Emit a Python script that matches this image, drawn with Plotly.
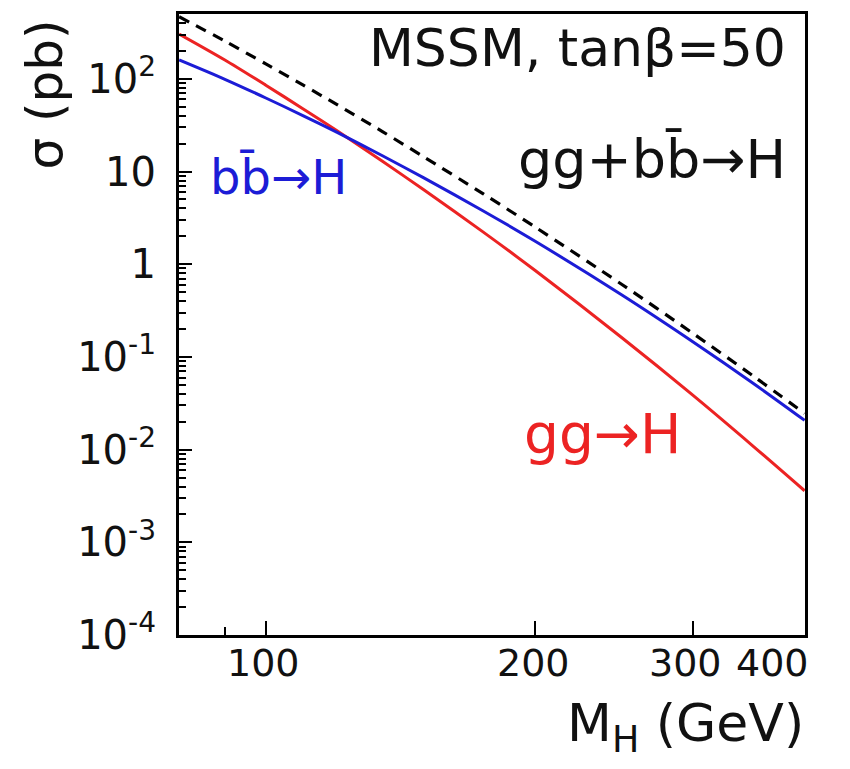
import math
import plotly.graph_objects as go

# Higgs mass (GeV)
mass = [80, 90, 100, 110, 120, 135, 150, 175, 200, 250, 300, 350, 400]
# cross sections (pb)
sigma_bbH = [160, 99, 62.2, 40.2, 26.6, 14.8, 8.6, 3.76, 1.77, 0.466, 0.146, 0.0524, 0.0207]
sigma_ggH = [305, 160, 85.5, 47.7, 27.7, 12.9, 6.4, 2.22, 0.855, 0.161, 0.0387, 0.0110, 0.0036]
sigma_tot = [468, 256, 145, 86, 53, 27, 14.5, 5.75, 2.52, 0.605, 0.180, 0.0628, 0.0246]

y_tickvals = [1e-4, 1e-3, 1e-2, 1e-1, 1, 10, 100]
y_ticktext = ["10<sup>-4</sup>", "10<sup>-3</sup>", "10<sup>-2</sup>", "10<sup>-1</sup>",
              "1", "10", "10<sup>2</sup>"]
x_tickvals = [100, 200, 300, 400]
x_ticktext = ["100", "200", "300", "400"]
x_label_shift = [-2, -2, -7, 6]   # small label nudges as drawn in the original

BLUE = "#1c1cd6"
RED = "#ec2323"
FONT = "DejaVu Sans"

fig = go.Figure()
fig.add_trace(go.Scatter(x=mass, y=sigma_ggH, mode="lines",
                         line=dict(color=RED, width=3, shape="spline", smoothing=0.8)))
fig.add_trace(go.Scatter(x=mass, y=sigma_bbH, mode="lines",
                         line=dict(color=BLUE, width=3, shape="spline", smoothing=0.8)))
fig.add_trace(go.Scatter(x=mass, y=sigma_tot, mode="lines",
                         line=dict(color="black", width=3.2, dash="11px,8px",
                                   shape="spline", smoothing=0.8)))

L, R, T, B = 179, 805, 11, 635
W, H = 850, 769


def px(xp):
    return (xp - L) / (R - L)


def py(yp):
    return (B - yp) / (B - T)


fig.update_layout(
    width=W, height=H,
    margin=dict(l=L, r=W - R, t=T, b=H - B),
    paper_bgcolor="white", plot_bgcolor="white",
    showlegend=False,
    font=dict(family=FONT, color="black"),
)
fig.update_xaxes(
    type="log", range=[1.903, 2.6025],
    tickvals=x_tickvals, ticktext=[""] * len(x_tickvals),
    ticks="inside", ticklen=14, tickwidth=1.5, tickcolor="black",
    minor=dict(tickvals=[90], ticks="inside", ticklen=8, tickcolor="black", tickwidth=1.5),
    showline=True, linecolor="black", linewidth=3, mirror=True,
    showgrid=False, zeroline=False,
)
fig.update_yaxes(
    type="log", range=[-4, 2.70],
    tickvals=y_tickvals, ticktext=y_ticktext,
    ticks="inside", ticklen=13, tickwidth=1.5, tickcolor="black",
    minor=dict(dtick="D1", ticks="inside", ticklen=7, tickcolor="black", tickwidth=1.5),
    showline=True, linecolor="black", linewidth=3, mirror=True,
    showgrid=False, zeroline=False,
    ticklabelstandoff=12,
    tickfont=dict(size=40, family=FONT, color="#111"),
)

# x tick labels placed on the data axis (last one kept inside the frame, as in the original)
for i, (v, t, s) in enumerate(zip(x_tickvals, x_ticktext, x_label_shift)):
    last = i == len(x_tickvals) - 1
    fig.add_annotation(text=t, x=math.log10(v), xref="x", y=py(663), yref="paper",
                       xanchor="right" if last else "center", xshift=s,
                       yanchor="middle", showarrow=False,
                       font=dict(size=38, family=FONT, color="#111"))

ann = [
    dict(text="MSSM, tanβ=50", x=px(788), y=py(45), xanchor="right", yanchor="middle",
         font=dict(size=52, color="#111")),
    dict(text="gg+bb\u0304\u2192H", x=px(788), y=py(157), xanchor="right", yanchor="middle",
         font=dict(size=54, color="#111")),
    dict(text="bb\u0304\u2192H", x=px(208), y=py(175), xanchor="left", yanchor="middle",
         font=dict(size=48, color=BLUE)),
    dict(text="gg\u2192H", x=px(522), y=py(433), xanchor="left", yanchor="middle",
         font=dict(size=55, color=RED)),
    dict(text="M<sub>H</sub> (GeV)", x=px(806), y=py(727), xanchor="right", yanchor="middle",
         font=dict(size=52, color="#111")),
    dict(text="σ (pb)", x=px(45), y=py(92), xanchor="center", yanchor="middle",
         textangle=-90, font=dict(size=50, color="#111")),
]
for a in ann:
    a.update(xref="paper", yref="paper", showarrow=False)
    fig.add_annotation(**a)

fig.write_html("out.html")
